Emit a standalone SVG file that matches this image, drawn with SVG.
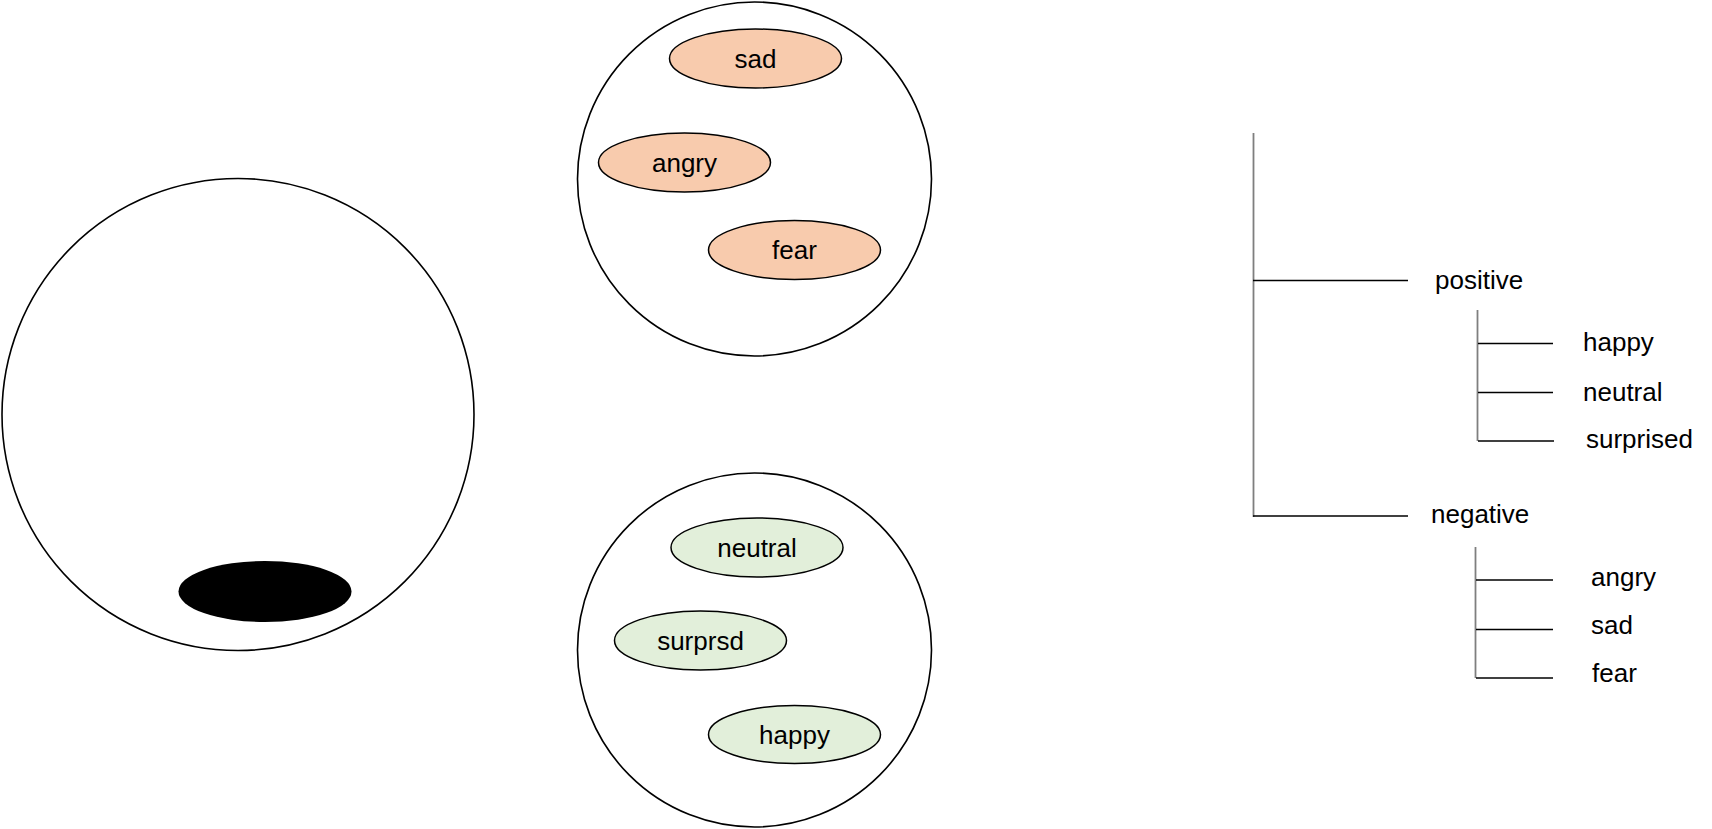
<svg xmlns="http://www.w3.org/2000/svg" width="1712" height="829" viewBox="0 0 1712 829">
<style>
.big{fill:#fff;stroke:#000;stroke-width:1.6}
.neg{fill:#F8CBAD;stroke:#000;stroke-width:1.5}
.pos{fill:#E2EFDA;stroke:#000;stroke-width:1.5}
.lbl{font-family:"Liberation Sans",Arial,sans-serif;font-size:26px;fill:#000;text-anchor:middle}
.tl{font-family:"Liberation Sans",Arial,sans-serif;font-size:26px;fill:#000}
.h{stroke:#000;stroke-width:1.3;fill:none}
.v{stroke:#7f7f7f;stroke-width:1.8;fill:none}
</style>
<rect width="1712" height="829" fill="#fff"/>
<g id="big-circle">
<circle class="big" cx="238" cy="414.5" r="236"/>
<ellipse cx="265" cy="591.5" rx="86.5" ry="30.5" fill="#000"/>
</g>
<g id="negative-group">
<circle class="big" cx="754.5" cy="179" r="177"/>
<g id="neg-sad"><ellipse class="neg" cx="755.5" cy="58.5" rx="86" ry="29.5"/><text class="lbl" x="755.5" y="68">sad</text></g>
<g id="neg-angry"><ellipse class="neg" cx="684.5" cy="162.5" rx="86" ry="29.5"/><text class="lbl" x="684.5" y="171.5">angry</text></g>
<g id="neg-fear"><ellipse class="neg" cx="794.5" cy="250" rx="86" ry="29.5"/><text class="lbl" x="794.5" y="259">fear</text></g>
</g>
<g id="positive-group">
<circle class="big" cx="754.5" cy="650" r="177"/>
<g id="pos-neutral"><ellipse class="pos" cx="757" cy="547.5" rx="86" ry="29.5"/><text class="lbl" x="757" y="557">neutral</text></g>
<g id="pos-surprsd"><ellipse class="pos" cx="700.5" cy="640.5" rx="86" ry="29.5"/><text class="lbl" x="700.5" y="649.5">surprsd</text></g>
<g id="pos-happy"><ellipse class="pos" cx="794.5" cy="734.5" rx="86" ry="29"/><text class="lbl" x="794.5" y="743.5">happy</text></g>
</g>
<g id="connectors">
<line class="v" x1="1253.5" y1="133" x2="1253.5" y2="517"/>
<line class="h" x1="1253" y1="280.5" x2="1408" y2="280.5"/>
<line class="h" x1="1253" y1="516" x2="1408" y2="516"/>
<line class="v" x1="1477.5" y1="310" x2="1477.5" y2="441"/>
<line class="h" x1="1478" y1="343.5" x2="1553" y2="343.5"/>
<line class="h" x1="1478" y1="392.5" x2="1553" y2="392.5"/>
<line class="h" x1="1478" y1="441" x2="1554" y2="441"/>
<line class="v" x1="1475.5" y1="547" x2="1475.5" y2="678"/>
<line class="h" x1="1476" y1="580" x2="1553" y2="580"/>
<line class="h" x1="1476" y1="629.5" x2="1553" y2="629.5"/>
<line class="h" x1="1476" y1="678" x2="1553" y2="678"/>
</g>
<g id="tree-positive"><text class="tl" x="1435" y="289">positive</text></g>
<g id="tree-happy"><text class="tl" x="1583" y="351">happy</text></g>
<g id="tree-neutral"><text class="tl" x="1583" y="401">neutral</text></g>
<g id="tree-surprised"><text class="tl" x="1586" y="448">surprised</text></g>
<g id="tree-negative"><text class="tl" x="1431" y="523">negative</text></g>
<g id="tree-angry"><text class="tl" x="1591" y="586">angry</text></g>
<g id="tree-sad"><text class="tl" x="1591" y="634">sad</text></g>
<g id="tree-fear"><text class="tl" x="1592" y="682">fear</text></g>
</svg>
